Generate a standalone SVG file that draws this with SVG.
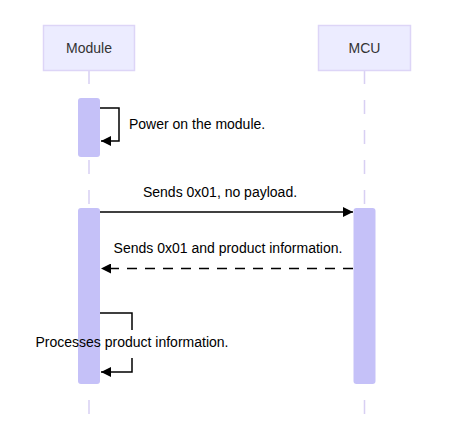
<svg xmlns="http://www.w3.org/2000/svg" width="465" height="422" viewBox="0 0 465 422">
<defs>
<style>
.actor{fill:#ececff;stroke:#ddd5f7;stroke-width:1.5}
.life{stroke:#d8cff3;stroke-width:1.5;stroke-dasharray:14 16;fill:none}
.act{fill:#c5c1f8;stroke:none}
.t{font-family:"Liberation Sans",Arial,Helvetica,sans-serif;font-size:14px;fill:#333}
.m{font-family:"Liberation Sans",Arial,Helvetica,sans-serif;font-size:14px;fill:#000}
.msg{stroke:#000;stroke-width:1.5;fill:none}
.dash{stroke-dasharray:10 8}
</style>
<marker id="ah" viewBox="0 0 10 10" refX="10" refY="5" markerWidth="10" markerHeight="10" markerUnits="userSpaceOnUse" orient="auto">
<path d="M0,0 L10,5 L0,10 z" fill="#000"/>
</marker>
</defs>
<rect width="465" height="422" fill="#fff"/>
<g id="lifelines">
<line class="life" x1="89" y1="70" x2="89" y2="416"/>
<line class="life" x1="364.5" y1="70" x2="364.5" y2="416"/>
</g>
<g id="actor-module">
<rect class="actor" x="43.5" y="25.5" width="91" height="45"/>
<text class="t" x="89" y="53" text-anchor="middle">Module</text>
</g>
<g id="actor-mcu">
<rect class="actor" x="318.5" y="25.5" width="92" height="45"/>
<text class="t" x="364.5" y="53" text-anchor="middle">MCU</text>
</g>
<g id="activations">
<rect class="act" x="78" y="98" width="22" height="59" rx="3"/>
<rect class="act" x="78" y="208" width="22" height="176" rx="3"/>
<rect class="act" x="353.5" y="208" width="22" height="176" rx="3"/>
</g>
<g id="connectors">
<path class="msg" d="M100,108 H119 V141 H101" marker-end="url(#ah)"/>
<line class="msg" x1="100" y1="212" x2="353" y2="212" marker-end="url(#ah)"/>
<line class="msg dash" x1="353" y1="268.5" x2="101" y2="268.5" marker-end="url(#ah)"/>
<path class="msg" d="M100,313 H132 V330"/>
<path class="msg" d="M132,358 V372 H101" marker-end="url(#ah)"/>
</g>
<g id="labels">
<text class="m" x="129" y="128.5">Power on the module.</text>
<text class="m" x="220" y="197" text-anchor="middle">Sends 0x01, no payload.</text>
<text class="m" x="228" y="253" text-anchor="middle">Sends 0x01 and product information.</text>
<text class="m" x="132" y="347" text-anchor="middle">Processes product information.</text>
</g>
</svg>
